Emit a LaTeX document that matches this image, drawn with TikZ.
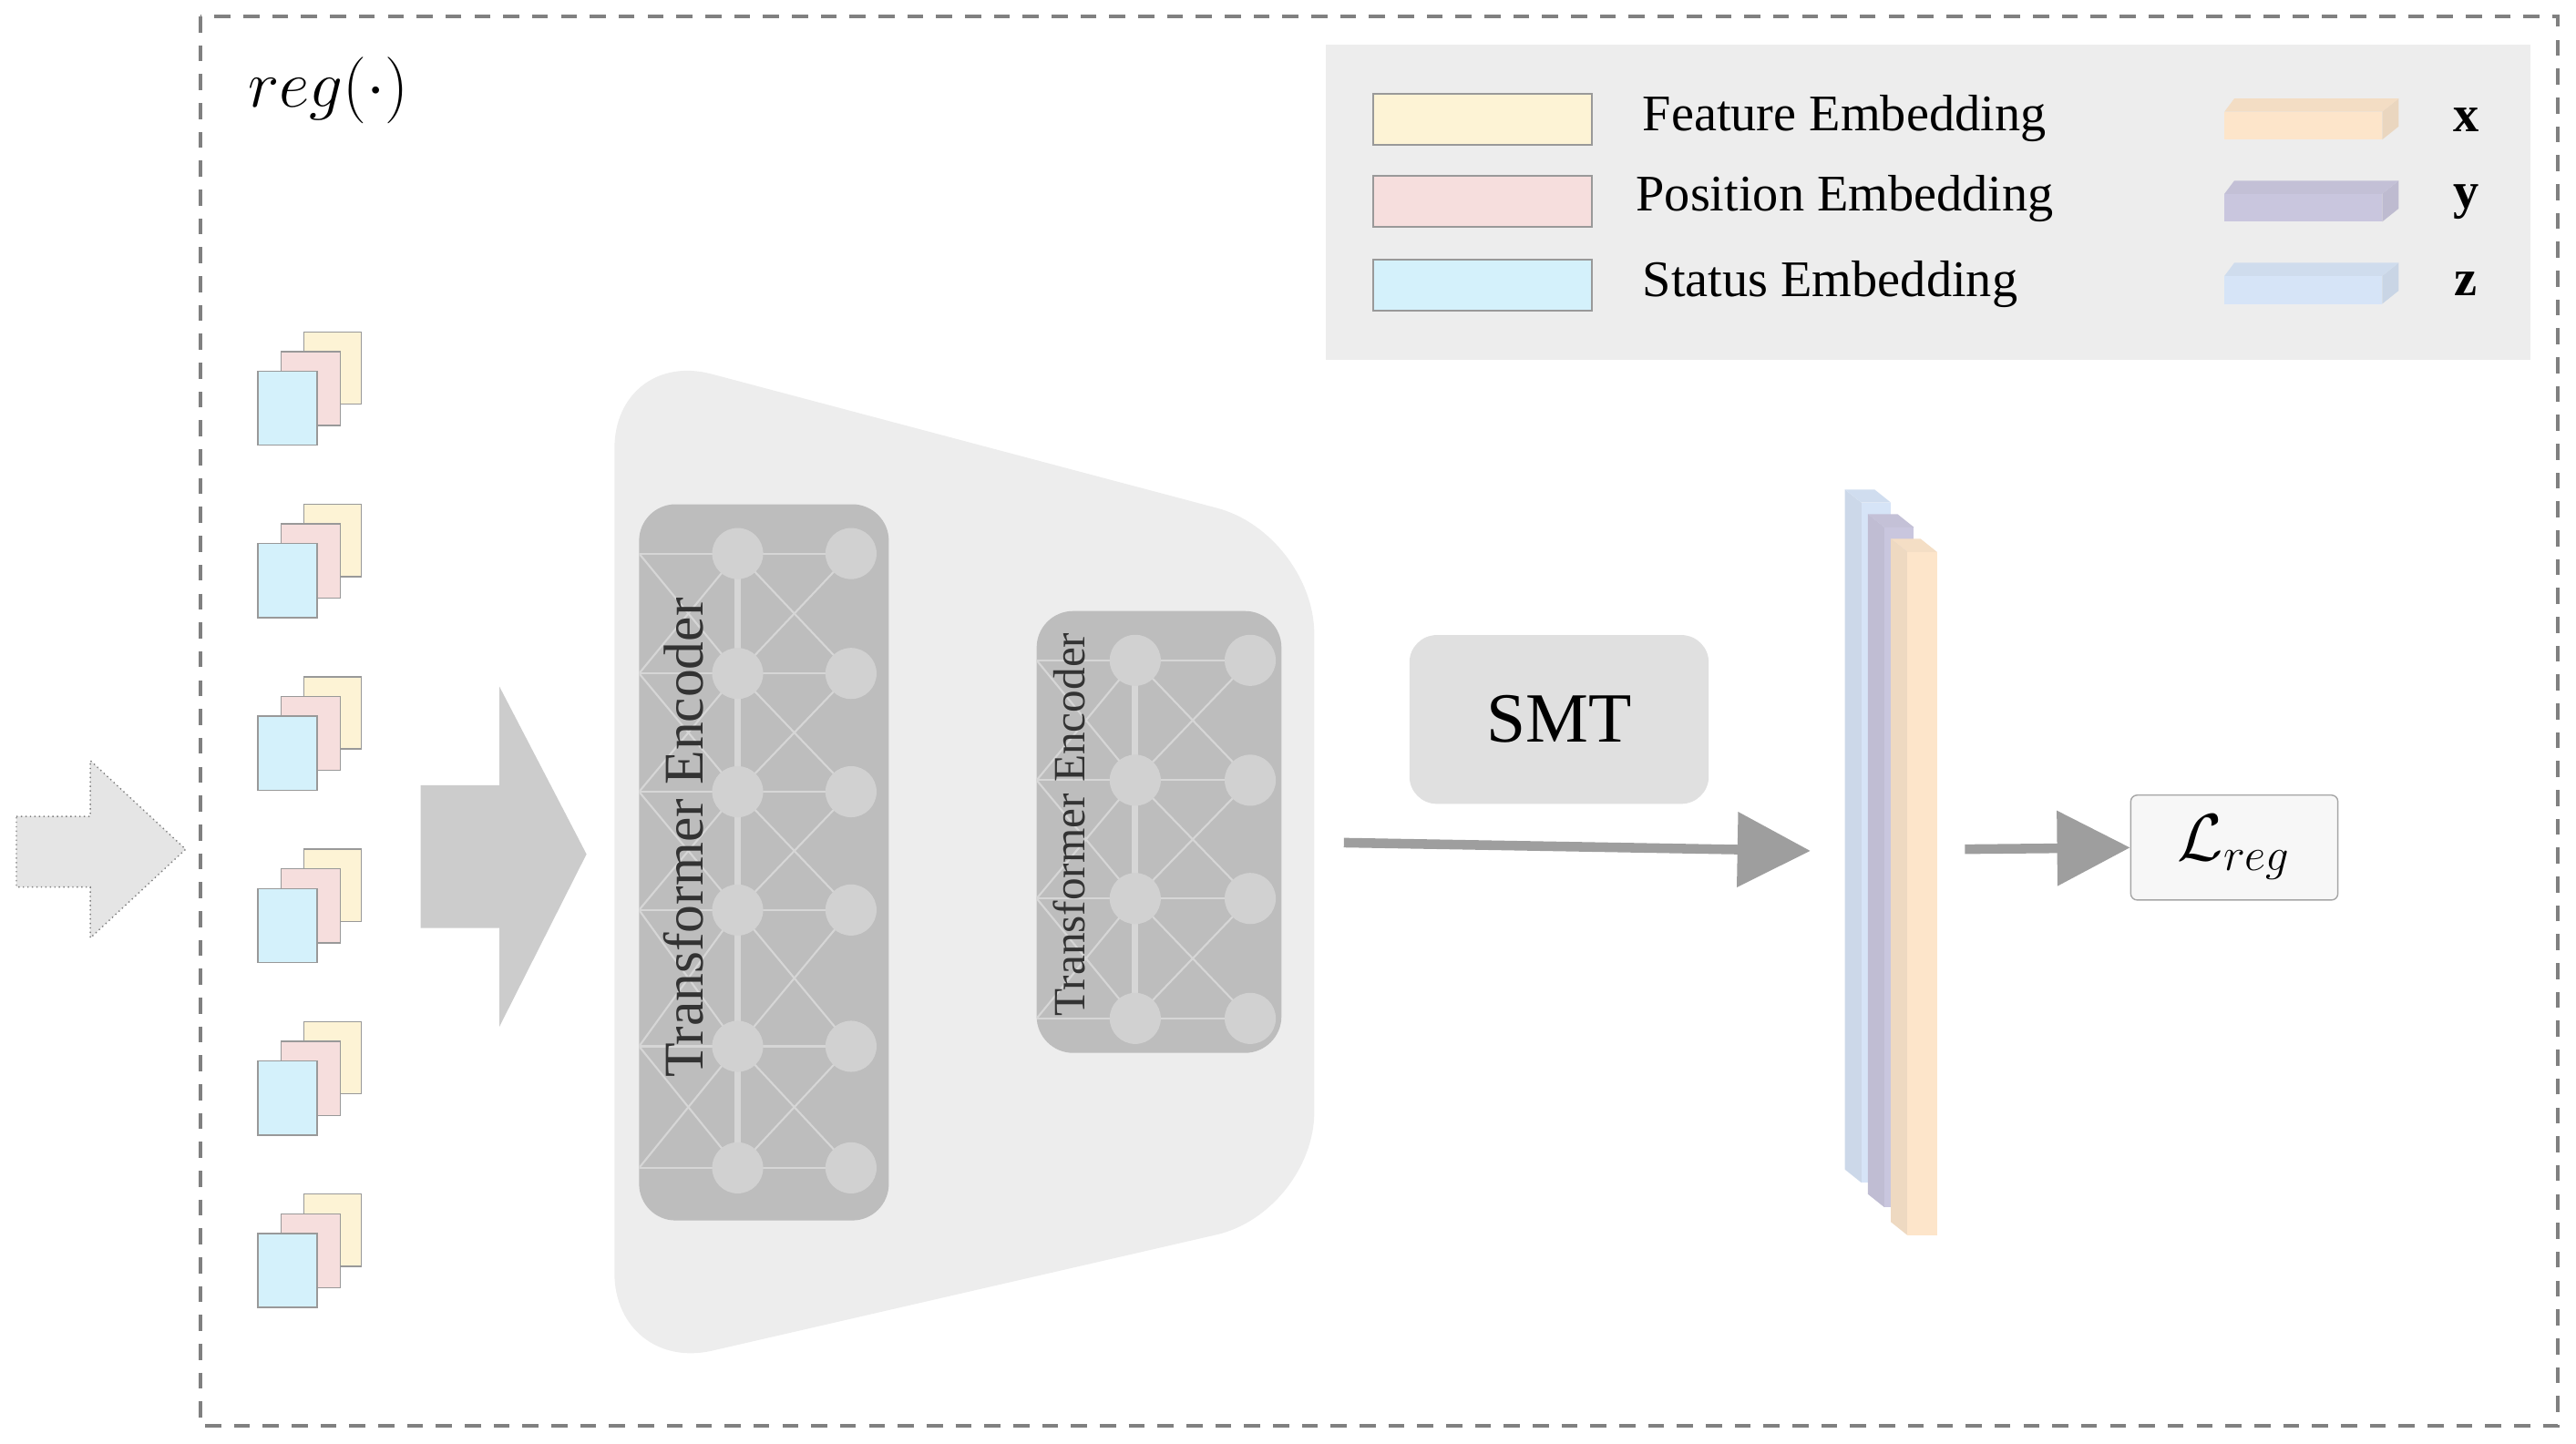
\documentclass[tikz,border=0pt]{standalone}
\usepackage{fontspec}
\setmainfont{Liberation Serif}
\usetikzlibrary{arrows.meta}
\definecolor{fy}{HTML}{FDF3D5}\definecolor{fp}{HTML}{F6DEDD}\definecolor{fc}{HTML}{D4F1FB}
\definecolor{bo}{HTML}{FDE5CA}\definecolor{bp}{HTML}{C9C6DE}\definecolor{bb}{HTML}{D6E4F7}
\definecolor{arr}{HTML}{9E9E9E}
\begin{document}
\begin{tikzpicture}[x=0.018cm,y=-0.018cm,
 card/.style={draw=gray!80,line width=0.4pt},
 swatch/.style={draw=gray!80,line width=0.5pt},
 leg/.style={anchor=west,font=\fontsize{16}{18}\selectfont},
 enc/.style={fill=black!26,rounded corners=0.4cm},
 neuron/.style={circle,fill=black!18,minimum size=0.56cm,inner sep=0},
 wire/.style={draw=black!16,line width=0.6pt},
 garrow/.style={draw=arr,line width=3pt,-{Triangle[length=0.8cm,width=0.8cm]}}]
\useasboundingbox (0,0) rectangle (1568,879);
\draw[dashed,gray,line width=1.2pt,dash pattern=on 5pt off 4pt] (122,10) rectangle (1557,868);
\node at (200,55) {\fontsize{22}{24}\selectfont $reg(\cdot)$};
% legend
\fill[black!7] (807,27) rectangle (1540,219);
\draw[swatch,fill=fy] (836,57) rectangle (969,88);
\draw[swatch,fill=fp] (836,107) rectangle (969,138);
\draw[swatch,fill=fc] (836,158) rectangle (969,189);
\node[leg] (l1) at (993,72) {Feature Embedding};
\node[leg] (l2) at (989,121) {Position Embedding};
\node[leg] (l3) at (993,173) {Status Embedding};
\foreach \y/\c/\t in {60/bo/x,110/bp/y,160/bb/z}{
 \fill[\c!85!gray] (1450,\y+8) -- (1460,\y) -- (1460,\y+17) -- (1450,\y+25) -- cycle;
 \fill[\c!92!gray] (1360,\y) -- (1460,\y) -- (1450,\y+8) -- (1354,\y+8) -- cycle;
 \fill[\c] (1354,\y+8) rectangle (1450,\y+25);
 \node[font=\bfseries\fontsize{16}{18}\selectfont] at (1501,\y+13) {\t};
}
% input cards
\foreach \k in {0,...,5}{
 \begin{scope}[yshift={-\k*105*0.018cm}]
 \draw[card,fill=fy] (185,202) rectangle (220,246);
 \draw[card,fill=fp] (171,214) rectangle (207,259);
 \draw[card,fill=fc] (157,226) rectangle (193,271);
 \end{scope}
}
% dotted arrow
\draw[densely dotted,gray,fill=black!10] (10,497) -- (55,497) -- (55,463) -- (113,517) -- (55,571) -- (55,540) -- (10,540) -- cycle;
% big arrow
\fill[black!20] (256,478) -- (304,478) -- (304,418) -- (357,520) -- (304,625) -- (304,565) -- (256,565) -- cycle;
% trapezoid
\fill[black!7,rounded corners=1.1cm] (374,212) -- (800,325) -- (800,738) -- (374,836) -- cycle;
% encoder 1
\fill[enc] (389,307) rectangle (541,743);
\begin{scope}
\clip[rounded corners=0.4cm] (389,307) rectangle (541,743);
\foreach \a/\b in {337/410,410/482,482/554,554/637,637/711}{
 \draw[wire] (449,\a) -- (518,\b); \draw[wire] (449,\b) -- (518,\a);
 \draw[wire] (389,\a) -- (449,\b); \draw[wire] (389,\b) -- (449,\a);}
\foreach \a in {337,410,482,554,637,711}{\draw[wire] (389,\a) -- (518,\a);}
\draw[wire,line width=2pt] (449,337) -- (449,711);
\foreach \a in {337,410,482,554,637,711}{\node[neuron] (e1a\a) at (449,\a) {};\node[neuron] (e1b\a) at (518,\a) {};}
\end{scope}
\node[rotate=90,font=\fontsize{17.5}{20}\selectfont,text=black!80] (t1) at (416,510) {Transformer Encoder};
% encoder 2
\fill[enc] (631,372) rectangle (780,641);
\begin{scope}
\clip[rounded corners=0.4cm] (631,372) rectangle (780,641);
\foreach \a/\b in {402/475,475/547,547/620}{
 \draw[wire] (691,\a) -- (761,\b); \draw[wire] (691,\b) -- (761,\a);
 \draw[wire] (631,\a) -- (691,\b); \draw[wire] (631,\b) -- (691,\a);}
\foreach \a in {402,475,547,620}{\draw[wire] (631,\a) -- (761,\a);}
\draw[wire,line width=2pt] (691,402) -- (691,620);
\foreach \a in {402,475,547,620}{\node[neuron] (e2a\a) at (691,\a) {};\node[neuron] (e2b\a) at (761,\a) {};}
\end{scope}
\node[rotate=90,font=\fontsize{14}{16}\selectfont,text=black!80] (t2) at (651,502) {Transformer Encoder};
% SMT
\node[fill=black!12,rounded corners=0.3cm,minimum width=3.28cm,minimum height=1.85cm,font=\fontsize{22}{24}\selectfont] (smt) at (949,438) {SMT};
% bars
\coordinate (a1s) at (818,513);
\coordinate (a1e) at (1102,518);
\draw[garrow] (a1s) -- (a1e);
\foreach \x/\t/\b/\c in {1123/298/720/bb,1137/313/735/bp,1151/328/752/bo}{
 \fill[\c!88!gray] (\x,\t) -- (\x+10,\t+8) -- (\x+10,\b) -- (\x,\b-8) -- cycle;
 \fill[\c!93!gray] (\x,\t) -- (\x+18,\t) -- (\x+28,\t+8) -- (\x+10,\t+8) -- cycle;
 \fill[\c] (\x+10,\t+8) rectangle (\x+28,\b);
}
\coordinate (a2s) at (1196,517);
\node[draw=gray!70,fill=black!3,rounded corners=2pt,minimum width=2.27cm,minimum height=1.15cm] (loss) at (1360,516) {\fontsize{20}{22}\selectfont $\mathcal{L}_{reg}$};
\draw[garrow] (a2s) -- (loss.west);
\end{tikzpicture}
\end{document}
